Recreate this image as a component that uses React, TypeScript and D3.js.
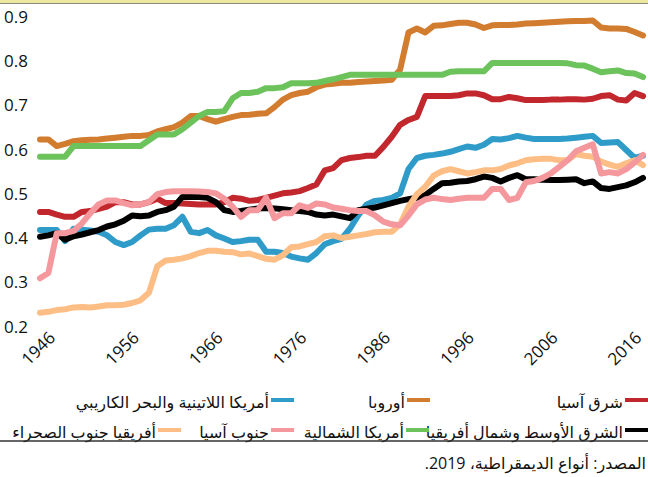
import * as d3 from "d3";
import React from "react";

const years = d3.range(1946, 2019);

const eastAsia = [
  0.458, 0.458, 0.452, 0.447, 0.447, 0.458, 0.46, 0.465, 0.47, 0.48,
  0.48, 0.475, 0.475, 0.48, 0.488, 0.478, 0.478, 0.477, 0.476, 0.475,
  0.475, 0.475, 0.48, 0.49, 0.488, 0.483, 0.485, 0.49, 0.495, 0.5,
  0.502, 0.505, 0.512, 0.52, 0.552, 0.557, 0.575, 0.58, 0.582, 0.585,
  0.585, 0.605, 0.628, 0.655, 0.666, 0.673, 0.72, 0.72, 0.72, 0.72,
  0.722, 0.726, 0.726, 0.722, 0.713, 0.713, 0.718, 0.715, 0.711, 0.711,
  0.711, 0.712, 0.712, 0.713, 0.713, 0.712, 0.714, 0.72, 0.722, 0.712,
  0.71, 0.727, 0.72,
];

const europe = [
  0.622, 0.622, 0.607, 0.612, 0.618, 0.62, 0.621, 0.622, 0.624, 0.626,
  0.628, 0.63, 0.63, 0.632, 0.64, 0.645, 0.65, 0.66, 0.675, 0.675,
  0.668, 0.662, 0.668, 0.673, 0.677, 0.678, 0.68, 0.681, 0.695, 0.712,
  0.722, 0.727, 0.73, 0.74, 0.746, 0.748, 0.75, 0.75, 0.752, 0.753,
  0.754, 0.755, 0.757, 0.78, 0.864, 0.873, 0.864, 0.879, 0.88, 0.883,
  0.886, 0.886, 0.882, 0.874, 0.88, 0.881, 0.881, 0.882, 0.884, 0.885,
  0.886, 0.887, 0.888, 0.889, 0.89, 0.89, 0.891, 0.875, 0.873, 0.873,
  0.872, 0.865, 0.857,
];

const latinAmerica = [
  0.417, 0.417, 0.417, 0.392, 0.42, 0.418, 0.416, 0.413, 0.405, 0.39,
  0.383, 0.39, 0.405, 0.418, 0.42, 0.42, 0.428, 0.447, 0.413, 0.41,
  0.417, 0.405, 0.398, 0.39, 0.392, 0.395, 0.395, 0.368, 0.368, 0.365,
  0.357, 0.353, 0.35, 0.365, 0.385, 0.392, 0.397, 0.42, 0.45, 0.475,
  0.483, 0.485, 0.49, 0.5, 0.555, 0.58, 0.585, 0.587, 0.59, 0.594,
  0.6, 0.606, 0.603, 0.61, 0.623, 0.622, 0.625, 0.63, 0.626, 0.623,
  0.623, 0.623, 0.623, 0.624, 0.626, 0.628, 0.63, 0.614, 0.615, 0.616,
  0.598, 0.58, 0.585,
];

const mena = [
  0.402, 0.405, 0.41, 0.395, 0.403, 0.407, 0.412, 0.417, 0.425, 0.43,
  0.438, 0.45, 0.448, 0.45, 0.458, 0.462, 0.47, 0.492, 0.492, 0.492,
  0.49, 0.48, 0.462, 0.458, 0.46, 0.463, 0.466, 0.467, 0.466, 0.464,
  0.462, 0.46, 0.458, 0.452, 0.45, 0.452, 0.448, 0.444, 0.462, 0.465,
  0.468, 0.473, 0.478, 0.483, 0.487, 0.49, 0.496, 0.51, 0.523, 0.524,
  0.527, 0.528, 0.532, 0.538, 0.535, 0.527, 0.535, 0.541, 0.532, 0.532,
  0.531, 0.53, 0.53, 0.531, 0.532, 0.523, 0.527, 0.512, 0.51, 0.514,
  0.518, 0.525, 0.535,
];

const northAmerica = [
  0.583, 0.583, 0.583, 0.583, 0.607, 0.607, 0.607, 0.607, 0.607, 0.607,
  0.607, 0.607, 0.607, 0.62, 0.633, 0.633, 0.633, 0.645, 0.66, 0.675,
  0.684, 0.684, 0.686, 0.715, 0.727, 0.727, 0.73, 0.738, 0.738, 0.74,
  0.749, 0.749, 0.749, 0.75, 0.754, 0.758, 0.763, 0.768, 0.768, 0.768,
  0.768, 0.768, 0.768, 0.768, 0.768, 0.768, 0.768, 0.768, 0.768, 0.775,
  0.776, 0.776, 0.776, 0.776, 0.795, 0.795, 0.795, 0.795, 0.795, 0.795,
  0.795, 0.795, 0.795, 0.794, 0.79, 0.789, 0.782, 0.774, 0.776, 0.778,
  0.772, 0.771, 0.763,
];

const southAsia = [
  0.308, 0.32, 0.41, 0.41, 0.415, 0.432, 0.455, 0.475, 0.484, 0.484,
  0.478, 0.473, 0.475, 0.48, 0.498, 0.503, 0.505, 0.505, 0.505, 0.504,
  0.503, 0.5, 0.488, 0.47, 0.447, 0.462, 0.462, 0.49, 0.444, 0.455,
  0.455, 0.473, 0.467, 0.477, 0.475, 0.468, 0.465, 0.462, 0.46, 0.46,
  0.45, 0.436, 0.43, 0.428, 0.45, 0.475, 0.486, 0.49, 0.487, 0.485,
  0.488, 0.49, 0.49, 0.49, 0.51, 0.51, 0.485, 0.49, 0.525, 0.528,
  0.535, 0.545, 0.56, 0.575, 0.595, 0.603, 0.611, 0.545, 0.548, 0.545,
  0.555, 0.57, 0.587,
];

const subSaharan = [
  0.23, 0.232, 0.236, 0.238, 0.242, 0.243, 0.242, 0.244, 0.247, 0.247,
  0.248, 0.252, 0.258, 0.275, 0.335, 0.348, 0.35, 0.353, 0.358, 0.365,
  0.37, 0.37, 0.368, 0.367, 0.362, 0.364, 0.358, 0.352, 0.35, 0.36,
  0.378, 0.38, 0.385, 0.39, 0.403, 0.405, 0.399, 0.402, 0.405, 0.408,
  0.412, 0.413, 0.413, 0.43, 0.47, 0.498, 0.515, 0.54, 0.55, 0.555,
  0.55, 0.545, 0.548, 0.552, 0.552, 0.555, 0.563, 0.568, 0.575, 0.577,
  0.578, 0.578, 0.575, 0.575, 0.589, 0.585, 0.583, 0.572, 0.565, 0.56,
  0.568, 0.575, 0.564,
];

const yTicks = [0.2, 0.3, 0.4, 0.5, 0.6, 0.7, 0.8, 0.9];
const xTicks = [1946, 1956, 1966, 1976, 1986, 1996, 2006, 2016];

const seriesNames = [
  "شرق آسيا",
  "أوروبا",
  "أمريكا اللاتينية والبحر الكاريبي",
  "الشرق الأوسط وشمال أفريقيا",
  "أمريكا الشمالية",
  "جنوب آسيا",
  "أفريقيا جنوب الصحراء",
];
const seriesValues = [eastAsia, europe, latinAmerica, mena, northAmerica, southAsia, subSaharan];
const seriesColors = ["#c1272d", "#d27c2f", "#2e9bc9", "#000000", "#6cc25b", "#f4989d", "#fdbe85"];

const sourceText = "المصدر: أنواع الديمقراطية، 2019.";

const W = 648;
const H = 477;
const FONT = "'Open Sans', 'DejaVu Sans', sans-serif";

// legend slots: row, swatch right edge
const legendSlots = [
  { row: 0, right: 648 },
  { row: 0, right: 430 },
  { row: 0, right: 294 },
  { row: 1, right: 648 },
  { row: 1, right: 429 },
  { row: 1, right: 294 },
  { row: 1, right: 181 },
];
const legendRowY = [402, 432];

export default function App() {
  const x = d3.scaleLinear().domain([1946, 2018]).range([40, 643]);
  const y = d3.scaleLinear().domain([0.2, 0.9]).range([326, 16.5]);

  const line = d3
    .line<number>()
    .x((_, i) => x(years[i]))
    .y((d) => y(d));

  // draw order, last on top
  const drawOrder = [0, 1, 2, 3, 6, 5, 4];

  return (
    <svg
      width={W}
      height={H}
      style={{ position: "absolute", left: 0, top: 0, background: "#fff" }}
      fontFamily={FONT}
    >
      <rect x={0} y={0} width={W} height={3} fill="#eee89e" />
      <line x1={0} x2={W} y1={3.5} y2={3.5} stroke="#8c8c84" strokeWidth={1} />

      {yTicks.map((t) => (
        <text key={t} x={4} y={y(t)} fontSize={17} dominantBaseline="central" fill="#111">
          {t.toFixed(1)}
        </text>
      ))}

      {xTicks.map((t) => (
        <text
          key={t}
          transform={`translate(${x(t) - 2}, 348) rotate(-45)`}
          fontSize={17}
          textAnchor="middle"
          dominantBaseline="central"
          fill="#111"
        >
          {t}
        </text>
      ))}

      {drawOrder.map((i) => (
        <path
          key={i}
          d={line(seriesValues[i]) || ""}
          fill="none"
          stroke={seriesColors[i]}
          strokeWidth={6}
          strokeLinejoin="round"
          strokeLinecap="round"
        />
      ))}

      {seriesNames.map((name, i) => {
        const slot = legendSlots[i];
        const ly = legendRowY[slot.row];
        return (
          <g key={name}>
            <line
              x1={slot.right - 23}
              x2={slot.right}
              y1={ly - 2}
              y2={ly - 2}
              stroke={seriesColors[i]}
              strokeWidth={4}
            />
            <text
              x={slot.right - 25}
              y={ly}
              fontSize={16}
              direction="rtl"
              textAnchor="start"
              dominantBaseline="central"
              fill="#111"
            >
              {name}
            </text>
          </g>
        );
      })}

      <line x1={0} x2={W} y1={441} y2={441} stroke="#333" strokeWidth={1.5} />

      <text
        x={646}
        y={463}
        fontSize={16}
        direction="rtl"
        textAnchor="start"
        dominantBaseline="central"
        fill="#111"
      >
        {sourceText}
      </text>
    </svg>
  );
}
